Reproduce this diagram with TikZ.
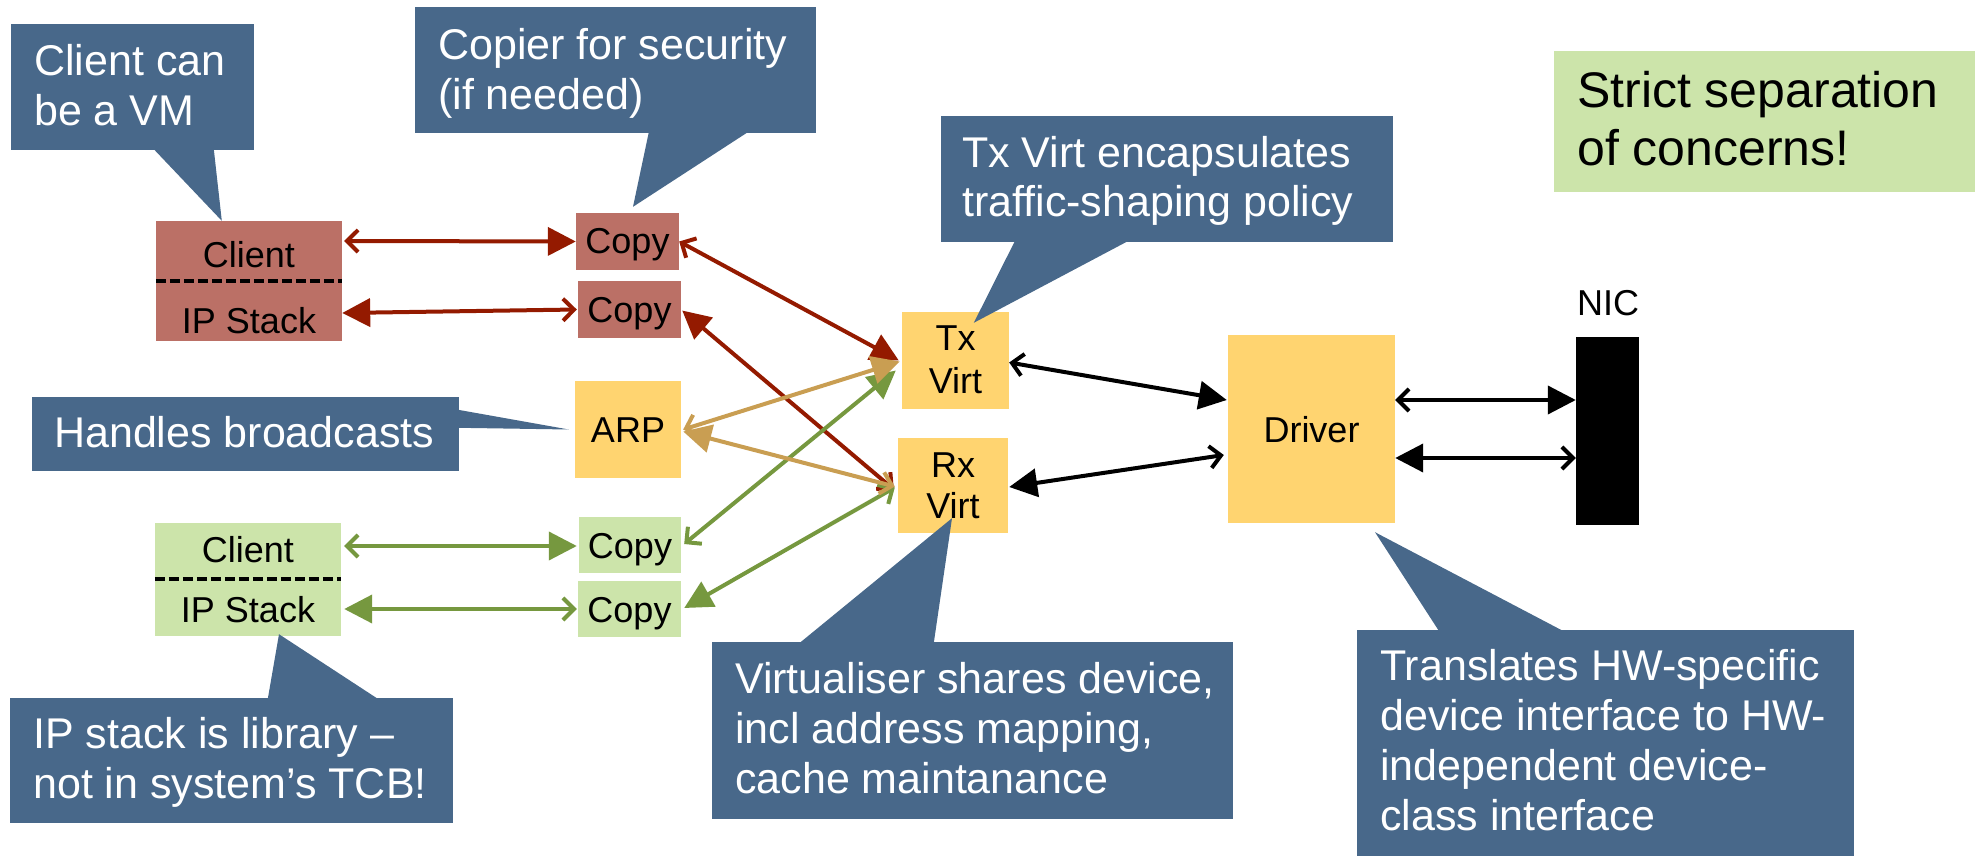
\documentclass[tikz,border=0pt]{standalone}
\usepackage{fontspec}
\setmainfont{Liberation Sans}
\usetikzlibrary{arrows.meta,calc}

\definecolor{calloutblue}{HTML}{48688A}
\definecolor{redfill}{HTML}{BB7066}
\definecolor{redline}{HTML}{941A00}
\definecolor{yellowfill}{HTML}{FFD470}
\definecolor{greenfill}{HTML}{CCE4AA}
\definecolor{greenline}{HTML}{76983F}
\definecolor{tanline}{HTML}{C99E52}

% multi-line text whose base is the first line's baseline
\newcommand{\lns}[1]{\begin{tabular}[t]{@{}l@{}}#1\end{tabular}}

\tikzset{
  boxbase/.style={draw=none, inner sep=0pt},
  redbox/.style={boxbase, fill=redfill},
  yellowbox/.style={boxbase, fill=yellowfill},
  greenbox/.style={boxbase, fill=greenfill},
  nicbox/.style={boxbase, fill=black},
  lbl/.style={anchor=base, inner sep=0pt, font=\fontsize{36}{43}\selectfont},
  callout/.style={boxbase, fill=calloutblue},
  callouttext/.style={anchor=base west, inner sep=0pt, text=white, font=\fontsize{43}{50}\selectfont},
  openTip/.tip={Straight Barb[length=11pt,width=22pt]},
  fullTip/.tip={Triangle[length=28pt,width=28pt]},
  link/.style={line width=4pt},
  sepline/.style={line width=4pt, dash pattern=on 10pt off 4pt},
}

\begin{document}
\begin{tikzpicture}[x=1pt,y=-1pt]
\useasboundingbox (0,0) rectangle (1975,856);

% ---------- boxes ----------
\node[redbox, minimum width=186pt, minimum height=60pt] (rcA) at (249,251) {};
\node[redbox, minimum width=186pt, minimum height=60pt] (rcB) at (249,311) {};
\node[redbox, minimum width=103pt, minimum height=57pt] (rcp1) at (627.5,241.5) {};
\node[redbox, minimum width=103pt, minimum height=57pt] (rcp2) at (629.5,309.5) {};
\node[yellowbox, minimum width=106pt, minimum height=97pt] (arp) at (628,429.5) {};
\node[greenbox, minimum width=186pt, minimum height=56pt] (gcA) at (248,551) {};
\node[greenbox, minimum width=186pt, minimum height=57pt] (gcB) at (248,607.5) {};
\node[greenbox, minimum width=102pt, minimum height=56pt] (gcp1) at (630,545) {};
\node[greenbox, minimum width=103pt, minimum height=56pt] (gcp2) at (629.5,609) {};
\node[yellowbox, minimum width=107pt, minimum height=97pt] (tx) at (955.5,360.5) {};
\node[yellowbox, minimum width=110pt, minimum height=95pt] (rx) at (953,485.5) {};
\node[yellowbox, minimum width=167pt, minimum height=188pt] (drv) at (1311.5,429) {};
\node[nicbox, minimum width=63pt, minimum height=188pt] (nic) at (1607.5,431) {};
\node[greenbox, minimum width=421pt, minimum height=141pt] (strict) at (1764.5,121.5) {};

% client / IP stack separators
\draw[sepline] (rcA.south west) -- (rcA.south east);
\draw[sepline] (gcA.south west) -- (gcA.south east);

% ---------- connectors ----------
\draw[link, redline, openTip-fullTip] ($(rcA.east)+(2,-10)$) -- (rcp1.west);
\draw[link, redline, fullTip-openTip] ($(rcB.east)+(0,2)$) -- ($(rcp2.west)+(-1,0)$);
\draw[link, redline, openTip-fullTip] (rcp1.east) -- ($(tx.west)+(-3,0)$);
\draw[link, redline, fullTip-openTip] ($(rcp2.east)+(1,1)$) -- ($(rx.west)+(-4,4)$);

\draw[link, greenline, openTip-fullTip] ($(gcA.east)+(3,-5)$) -- ($(gcp1.west)+(-2,1)$);
\draw[link, greenline, fullTip-openTip] ($(gcB.east)+(3,1.5)$) -- ($(gcp2.west)+(-1,0)$);
\draw[link, greenline, openTip-fullTip] ($(gcp1.east)+(3,-1)$) -- ($(tx.west)+(-6,10)$);
\draw[link, greenline, fullTip-openTip] ($(gcp2.east)+(3,-1)$) -- ($(rx.west)+(-3,2)$);

\draw[link, tanline, openTip-fullTip] ($(arp.east)+(2,0)$) -- ($(tx.west)+(-2,1)$);
\draw[link, tanline, fullTip-openTip] ($(arp.east)+(2,2)$) -- ($(rx.west)+(-3,1)$);

\draw[link, black, openTip-fullTip] ($(tx.east)+(0,2)$) -- ($(drv.west)+(-1,-29)$);
\draw[link, black, fullTip-openTip] ($(rx.east)+(1,1.5)$) -- ($(drv.west)+(-4,26)$);
\draw[link, black, openTip-fullTip] ($(drv.east)+(0,-29)$) -- ($(nic.west)+(0,-31)$);
\draw[link, black, fullTip-openTip] ($(drv.east)+(0,29)$) -- ($(nic.west)+(0,27)$);

% ---------- box labels ----------
\node[lbl] (rcAl) at (249,267) {Client};
\node[lbl] (rcBl) at (249,333) {IP Stack};
\node[lbl] (rcp1l) at (627.5,253) {Copy};
\node[lbl] (rcp2l) at (629.5,322) {Copy};
\node[lbl] (arpl) at (628,442) {ARP};
\node[lbl] (gcAl) at (248,562) {Client};
\node[lbl] (gcBl) at (248,622) {IP Stack};
\node[lbl] (gcp1l) at (630,558) {Copy};
\node[lbl] (gcp2l) at (629.5,622) {Copy};
\node[lbl] (txl1) at (955.5,350) {Tx};
\node[lbl] (txl2) at (955.5,393) {Virt};
\node[lbl] (rxl1) at (953,477) {Rx};
\node[lbl] (rxl2) at (953,518) {Virt};
\node[lbl] (drvl) at (1311.5,442) {Driver};
\node[lbl] (nicl) at (1608,315) {NIC};
\node[anchor=base west, inner sep=0pt, font=\fontsize{50}{58}\selectfont] (strictl) at (1577,108)
  {\lns{Strict separation\\of concerns!}};

% ---------- callouts ----------
\node[callout, minimum width=243pt, minimum height=126pt] (c1) at (132.5,87) {};
\fill[calloutblue] ($(c1.south west)+(143,-1)$) -- ($(rcA.north west)+(66,0)$) -- ($(c1.south west)+(203,-1)$) -- cycle;
\node[callouttext] (c1t) at (34,76) {\lns{Client can\\be a VM}};

\node[callout, minimum width=401pt, minimum height=126pt] (c2) at (615.5,70) {};
\fill[calloutblue] ($(c2.south west)+(234,-1)$) -- ($(rcp1.north)+(5.5,-6)$) -- ($(c2.south west)+(333,-1)$) -- cycle;
\node[callouttext] (c2t) at (438,60) {\lns{Copier for security\\(if needed)}};

\node[callout, minimum width=427pt, minimum height=74pt] (c3) at (245.5,434) {};
\fill[calloutblue] ($(c3.north east)+(-1,13)$) -- ($(arp.west)+(-6,0)$) -- ($(c3.north east)+(-1,31)$) -- cycle;
\node[callouttext] (c3t) at (54,447) {Handles broadcasts};

\node[callout, minimum width=443pt, minimum height=125pt] (c4) at (231.5,760.5) {};
\fill[calloutblue] ($(c4.north west)+(258,1)$) -- ($(gcB.south)+(31,-2)$) -- ($(c4.north west)+(368,1)$) -- cycle;
\node[callouttext] (c4t) at (33,748) {\lns{IP stack is library –\\not in system’s TCB!}};

\node[callout, minimum width=452pt, minimum height=126pt] (c5) at (1167,179) {};
\fill[calloutblue] ($(c5.south west)+(74,-1)$) -- ($(tx.north west)+(72,11)$) -- ($(c5.south west)+(187,-1)$) -- cycle;
\node[callouttext] (c5t) at (962,167) {\lns{Tx Virt encapsulates\\traffic-shaping policy}};

\node[callout, minimum width=521pt, minimum height=177pt] (c6) at (972.5,730.5) {};
\fill[calloutblue] ($(c6.north west)+(88,1)$) -- ($(rx.south)+(-1,-15)$) -- ($(c6.north west)+(222,1)$) -- cycle;
\node[callouttext] (c6t) at (735,693) {\lns{Virtualiser shares device,\\incl address mapping,\\cache maintanance}};

\node[callout, minimum width=497pt, minimum height=226pt] (c7) at (1605.5,743) {};
\fill[calloutblue] ($(c7.north west)+(82,1)$) -- ($(drv.south)+(63.5,9)$) -- ($(c7.north west)+(206,1)$) -- cycle;
\node[callouttext] (c7t) at (1380,680) {\lns{Translates HW-specific\\device interface to HW-\\independent device-\\class interface}};

\end{tikzpicture}
\end{document}
